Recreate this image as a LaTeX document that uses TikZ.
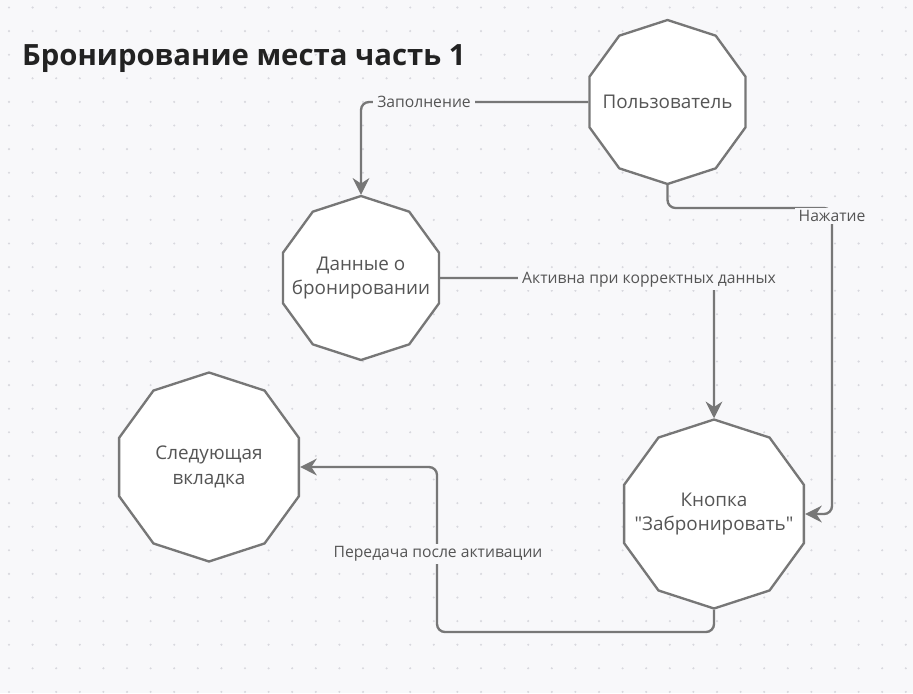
\documentclass[tikz,border=0pt]{standalone}
\usepackage{fontspec}
\setmainfont{Open Sans}
\usetikzlibrary{arrows.meta, shapes.geometric}

\definecolor{linegray}{HTML}{777777}
\definecolor{textgray}{HTML}{555555}
\definecolor{titlegray}{HTML}{222222}
\definecolor{bgpaper}{HTML}{F8F8FA}
\definecolor{dotgray}{HTML}{D8D8DE}

% straight double quote, past the tex-text mapping
\newcommand\dq{\XeTeXglyph\XeTeXcharglyph"0022 }

\tikzset{
  decagon/.style={regular polygon, regular polygon sides=10, shape border rotate=18,
    draw=linegray, line width=2pt, fill=white, inner sep=0pt},
  decotext/.style={text=textgray, align=center, font=\fontsize{16.1}{21}\selectfont},
  conn/.style={draw=linegray, line width=2pt, rounded corners=2.4mm},
  lbl/.style={fill=bgpaper, text=textgray, font=\fontsize{13.4}{15}\selectfont,
    inner xsep=1.2mm, inner ysep=0.8mm}
}

\begin{document}
\begin{tikzpicture}[x=0.3mm, y=-0.3mm, >={Stealth[length=5mm, width=5mm]}]
  % paper with dot grid
  \fill[bgpaper] (0,0) rectangle (913,693);
  \foreach \i in {0,...,38}
    \foreach \j in {0,...,29}
      \fill[dotgray] (9+23.6*\i, 7.5+23.6*\j) circle (0.35mm);
  \useasboundingbox (0,0) rectangle (913,693);

  \node[anchor=base west, inner sep=0pt, text=titlegray,
    font=\fontsize{25}{30}\selectfont\bfseries] (title) at (22,65) {Бронирование места часть 1};

  % states
  \node[decagon, minimum size=49.2mm, label={[decotext]center:Пользователь}] (user) at (667.5,102) {};
  \node[decagon, minimum size=49.2mm, label={[decotext]center:Данные о\\бронировании}] (data) at (361,278) {};
  \node[decagon, minimum size=56.7mm, label={[decotext]center:Следующая\\вкладка}] (nexttab) at (209,467) {};
  \node[decagon, minimum size=56.7mm, label={[decotext]center:Кнопка\\\dq Забронировать\dq}] (button) at (714,514) {};

  % transitions
  \draw[conn, ->] (user.west) -| (data.north);
  \draw[conn, ->] (user.south) |- (832,208) |- (button.east);
  \draw[conn, ->] (data.east) -| (button.north);
  \draw[conn, ->] (button.south) |- (437,632) |- (nexttab.east);

  \node[lbl] (lblfill) at (424,102) {Заполнение};
  \node[lbl] (lblpress) at (832,216) {Нажатие};
  \node[lbl] (lblactive) at (649,280) {Активна при корректных данных};
  \node[lbl] (lblpass) at (438,554) {Передача после активации};
\end{tikzpicture}
\end{document}
